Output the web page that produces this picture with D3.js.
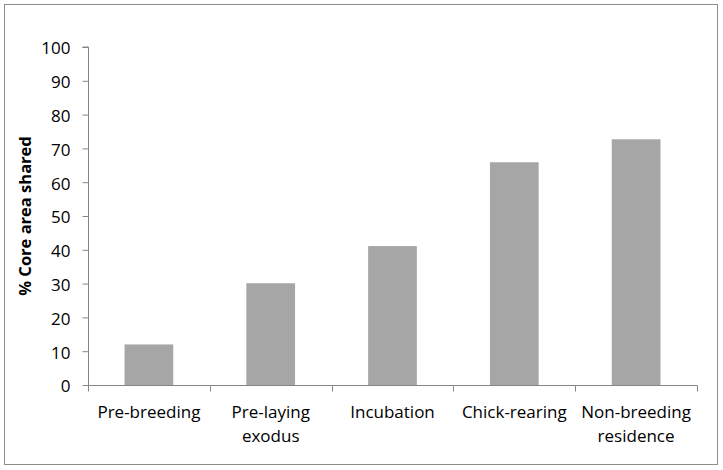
<!DOCTYPE html>
<html><head><meta charset="utf-8">
<script src="https://cdn.jsdelivr.net/npm/d3@7"></script>
<style>body{margin:0;background:#fff}svg{display:block}text{font-family:"Open Sans",sans-serif;fill:#000}</style>
</head><body>
<script>
const categories = [["Pre-breeding"],["Pre-laying","exodus"],["Incubation"],["Chick-rearing"],["Non-breeding","residence"]];
const values = [12, 30.1, 41.1, 65.9, 72.7];
const yTicks = [0,10,20,30,40,50,60,70,80,90,100];
const yTitle = "% Core area shared";

const W = 723, H = 470;
const svg = d3.select("body").append("svg").attr("width", W).attr("height", H);
svg.append("rect").attr("x",4.5).attr("y",4.5).attr("width",713).attr("height",460)
  .attr("fill","#fff").attr("stroke","#8c8c8c").attr("stroke-width",1);

const mLeft = 88, mRight = 697, mTop = 47, mBottom = 385;
const x = d3.scaleBand().domain(d3.range(categories.length)).range([mLeft,mRight]).paddingInner(0).paddingOuter(0);
const y = d3.scaleLinear().domain([0,100]).range([mBottom,mTop]);
const axisColor = "#868686";

// bars
const bw = x.bandwidth()/2.5;
svg.selectAll("rect.bar").data(values).enter().append("rect").attr("class","bar")
  .attr("x",(d,i)=>x(i)+x.bandwidth()/2-bw/2).attr("width",bw)
  .attr("y",d=>y(d)).attr("height",d=>y(0)-y(d)).attr("fill","#a6a6a6");

// y axis
const yAxis = svg.append("g").attr("transform",`translate(${mLeft+0.5},0)`)
  .call(d3.axisLeft(y).tickValues(yTicks).tickSize(6).tickPadding(12).tickFormat(d3.format("d")));
yAxis.select(".domain").attr("stroke",axisColor).attr("d",`M-6,${mTop}H0V${mBottom}`);
yAxis.selectAll(".tick line").attr("stroke",axisColor);
yAxis.selectAll(".tick text").attr("font-size",17).attr("font-family","Open Sans").attr("fill","#000").attr("dy","0.4em");

// x axis
const xAxisG = svg.append("g").attr("transform",`translate(0,${mBottom+0.5})`);
xAxisG.append("line").attr("x1",mLeft).attr("x2",mRight+0.5).attr("stroke",axisColor);
const bounds = d3.range(categories.length+1).map(i => i < categories.length ? x(i) : x(i-1)+x.bandwidth());
xAxisG.selectAll("line.t").data(bounds).enter().append("line").attr("class","t")
  .attr("x1",d=>Math.round(d)+0.5).attr("x2",d=>Math.round(d)+0.5).attr("y1",0).attr("y2",6).attr("stroke",axisColor);
categories.forEach((lines,i)=>{
  const t = svg.append("text").attr("text-anchor","middle").attr("font-size",17)
    .attr("x", x(i)+x.bandwidth()/2).attr("y", 418);
  lines.forEach((l,j)=> t.append("tspan").attr("x", x(i)+x.bandwidth()/2).attr("dy", j===0?0:24).text(l));
});

// y title
svg.append("text").attr("transform","translate(31,216) rotate(-90)").attr("text-anchor","middle")
  .attr("font-size",16.5).attr("font-weight","bold").text(yTitle);
</script>
</body></html>
